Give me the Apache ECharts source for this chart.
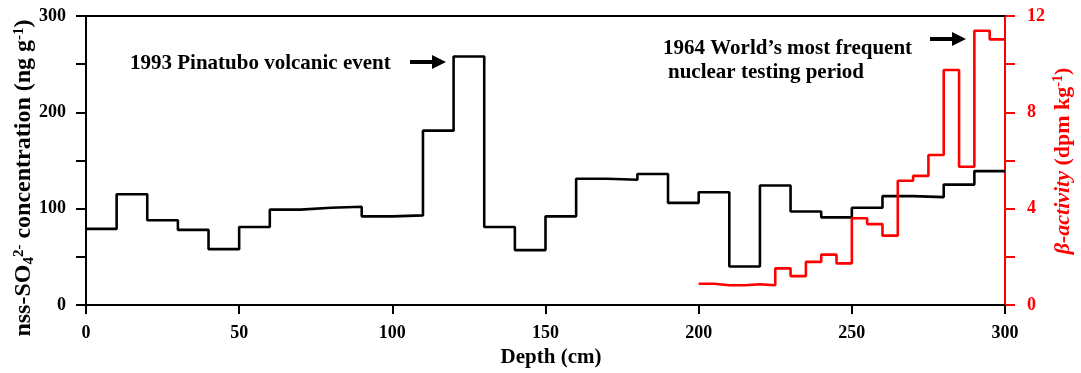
<!DOCTYPE html>
<html>
<head>
<meta charset="utf-8">
<script src="https://cdn.jsdelivr.net/npm/echarts@6/dist/echarts.min.js"></script>
<style>
html,body{margin:0;padding:0;background:#fff;}
#c{width:1081px;height:373px;}
</style>
</head>
<body>
<div id="c"></div>
<script>
// ---- data ----
var sulfateDepth = [0,10,20,30,40,50,60,70,80,90,100,110,120,130,140,150,160,170,180,190,200,210,220,230,240,250,260,270,280,290,300];
var sulfate = [79,115,88,78,58,81,99,101,102,92,93,181,258,81,57,92,131,130,136,106,117,40,124,97,91,101,113,112,125,139];
var betaDepth = [200,205,210,215,220,225,230,235,240,245,250,255,260,265,270,275,280,285,290,295,300];
var beta = [0.88,0.82,0.82,0.86,0.82,1.52,1.20,1.79,2.09,1.73,3.60,3.36,2.88,5.16,5.36,6.23,9.76,5.74,11.39,11.03];
var xTicks = [0,50,100,150,200,250,300];
var leftTicks = [0,100,200,300];
var rightTicks = [0,4,8,12];

function stepPairs(xs, vs){
  var out = [];
  for (var i = 0; i < vs.length; i++) out.push([xs[i], vs[i]]);
  out.push([xs[vs.length], vs[vs.length-1]]);
  return out;
}

var FONT = "'Liberation Serif','Times New Roman',serif";
var chart = echarts.init(document.getElementById('c'), null, {renderer:'canvas'});

chart.setOption({
  animation:false,
  backgroundColor:'#fff',
  grid:{left:86,right:76,top:16,bottom:68,containLabel:false},
  xAxis:[{
    type:'value',min:0,max:300,interval:50,position:'bottom',
    axisLine:{show:true,onZero:false,lineStyle:{color:'#000',width:2}},
    axisTick:{show:true,length:9,lineStyle:{color:'#000',width:2}},
    axisLabel:{color:'#000',fontFamily:FONT,fontWeight:'bold',fontSize:18,margin:19,
      formatter:function(v){return xTicks.indexOf(v)>=0?String(v):'';}},
    splitLine:{show:false}
  },{
    type:'value',min:0,max:300,position:'top',
    axisLine:{show:true,onZero:false,lineStyle:{color:'#000',width:2}},
    axisTick:{show:false},axisLabel:{show:false},splitLine:{show:false}
  }],
  yAxis:[{
    type:'value',min:0,max:300,interval:50,position:'left',
    axisLine:{show:true,onZero:false,lineStyle:{color:'#000',width:2}},
    axisTick:{show:true,length:10,lineStyle:{color:'#000',width:2}},
    axisLabel:{color:'#000',fontFamily:FONT,fontWeight:'bold',fontSize:18,margin:20,
      formatter:function(v){return leftTicks.indexOf(v)>=0?String(v):'';}},
    splitLine:{show:false}
  },{
    type:'value',min:0,max:12,interval:2,position:'right',
    axisLine:{show:true,onZero:false,lineStyle:{color:'#ff0000',width:2}},
    axisTick:{show:true,length:10,lineStyle:{color:'#ff0000',width:2}},
    axisLabel:{color:'#ff0000',fontFamily:FONT,fontWeight:'bold',fontSize:18,margin:22,
      formatter:function(v){return rightTicks.indexOf(v)>=0?String(v):'';}},
    splitLine:{show:false}
  }],
  series:[{
    type:'line',step:'end',xAxisIndex:0,yAxisIndex:0,
    data:stepPairs(sulfateDepth, sulfate),
    showSymbol:false,lineStyle:{color:'#000',width:2.6},z:3
  },{
    type:'line',step:'end',xAxisIndex:0,yAxisIndex:1,
    data:stepPairs(betaDepth, beta),
    showSymbol:false,lineStyle:{color:'#ff0000',width:2.6},z:4
  }],
  graphic:[
    {type:'text',x:24,y:178,rotation:Math.PI/2,
      style:{text:'{m|nss-SO}{sub|4}{sup|2-}{m| concentration (ng g}{sup|-1}{m|)}',
        align:'center',verticalAlign:'middle',
        rich:{
          m:{fontFamily:FONT,fontWeight:'bold',fontSize:24,fill:'#000',lineHeight:25},
          sub:{fontFamily:FONT,fontWeight:'bold',fontSize:15,fill:'#000',verticalAlign:'bottom'},
          sup:{fontFamily:FONT,fontWeight:'bold',fontSize:15,fill:'#000',verticalAlign:'top'}
        }}},
    {type:'text',x:1063,y:161,rotation:Math.PI/2,
      style:{text:'{i|β-activity}{m| (dpm kg}{sup|-1}{m|)}',
        align:'center',verticalAlign:'middle',
        rich:{
          i:{fontFamily:FONT,fontWeight:'bold',fontStyle:'italic',fontSize:22,fill:'#ff0000',lineHeight:24},
          m:{fontFamily:FONT,fontWeight:'bold',fontSize:22,fill:'#ff0000',lineHeight:24},
          sup:{fontFamily:FONT,fontWeight:'bold',fontSize:14,fill:'#ff0000',verticalAlign:'top'}
        }}},
    {type:'text',x:551,y:358,
      style:{text:'Depth (cm)',font:'bold 21px '+FONT,fill:'#000',align:'center',verticalAlign:'middle'}},
    {type:'text',x:130,y:64,
      style:{text:'1993 Pinatubo volcanic event',font:'bold 21px '+FONT,fill:'#000',align:'left',verticalAlign:'middle'}},
    {type:'text',x:663,y:49,
      style:{text:'1964 World\u2019s most frequent',font:'bold 21px '+FONT,fill:'#000',align:'left',verticalAlign:'middle'}},
    {type:'text',x:668,y:73,
      style:{text:'nuclear testing period',font:'bold 21px '+FONT,fill:'#000',align:'left',verticalAlign:'middle'}},
    {type:'line',shape:{x1:410,y1:62,x2:436,y2:62},style:{stroke:'#000',lineWidth:4}},
    {type:'polygon',shape:{points:[[432,55],[446,62],[432,69]]},style:{fill:'#000'}},
    {type:'line',shape:{x1:930,y1:39,x2:956,y2:39},style:{stroke:'#000',lineWidth:4}},
    {type:'polygon',shape:{points:[[952,32],[966,39],[952,46]]},style:{fill:'#000'}}
  ]
});
</script>
</body>
</html>
